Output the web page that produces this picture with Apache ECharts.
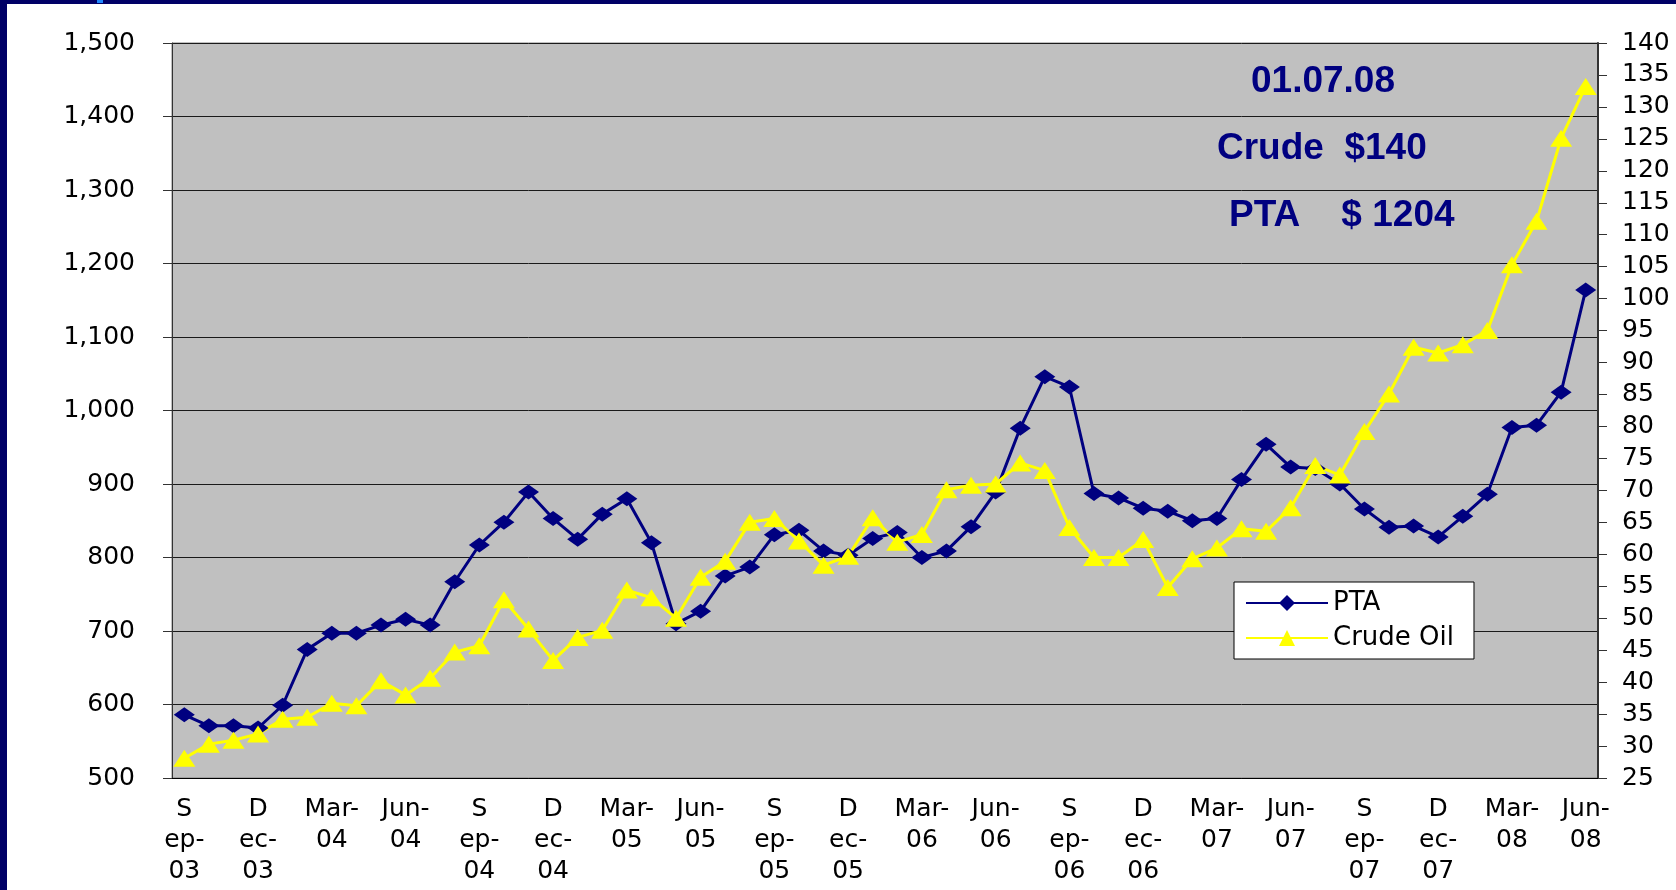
<!DOCTYPE html>
<html>
<head>
<meta charset="utf-8">
<title>PTA vs Crude Oil</title>
<script src="https://cdn.jsdelivr.net/npm/echarts@6/dist/echarts.min.js"></script>
<style>
    html, body { margin: 0; padding: 0; background: #ffffff; }
    #chart { width: 1676px; height: 890px; }
</style>
</head>
<body>
<div id="chart"></div>
<script>
    // monthly, Sep-03 .. Jun-08
    const months = [
        'Sep-03', 'Oct-03', 'Nov-03', 'Dec-03',
        'Jan-04', 'Feb-04', 'Mar-04', 'Apr-04', 'May-04', 'Jun-04', 'Jul-04', 'Aug-04', 'Sep-04', 'Oct-04', 'Nov-04', 'Dec-04',
        'Jan-05', 'Feb-05', 'Mar-05', 'Apr-05', 'May-05', 'Jun-05', 'Jul-05', 'Aug-05', 'Sep-05', 'Oct-05', 'Nov-05', 'Dec-05',
        'Jan-06', 'Feb-06', 'Mar-06', 'Apr-06', 'May-06', 'Jun-06', 'Jul-06', 'Aug-06', 'Sep-06', 'Oct-06', 'Nov-06', 'Dec-06',
        'Jan-07', 'Feb-07', 'Mar-07', 'Apr-07', 'May-07', 'Jun-07', 'Jul-07', 'Aug-07', 'Sep-07', 'Oct-07', 'Nov-07', 'Dec-07',
        'Jan-08', 'Feb-08', 'Mar-08', 'Apr-08', 'May-08', 'Jun-08'
    ];

    // PTA, $/t (left axis)
    const pta = [
        586, 571, 571, 568,
        599, 675, 697, 697, 708, 716, 708, 767, 817, 848, 889, 853,
        825, 859, 880, 820, 710, 727, 775, 787, 831, 837, 809, 803,
        826, 834, 800, 809, 842, 889, 976, 1046, 1032, 887, 881, 867,
        863, 850, 853, 906, 954, 923, 921, 900, 866, 841, 843, 828,
        856, 886, 977, 980, 1025, 1164
    ];

    // Crude oil, $/bbl (right axis)
    const crude = [
        28.1, 30.3, 30.9, 31.9,
        34.2, 34.5, 36.7, 36.3, 40.2, 38.0, 40.6, 44.7, 45.7, 52.9, 48.3, 43.4,
        47.0, 48.1, 54.4, 53.2, 50.0, 56.4, 58.9, 65.0, 65.6, 62.1, 58.3, 59.7,
        65.7, 61.9, 63.1, 70.1, 70.8, 71.0, 74.3, 73.1, 64.2, 59.5, 59.5, 62.3,
        54.8, 59.3, 61.0, 64.0, 63.6, 67.3, 73.9, 72.4, 79.2, 85.1, 92.4, 91.5,
        92.8, 95.0, 105.3, 112.1, 125.1, 133.2
    ];

    // the month labels wrap oddly in the original
    const monthWrap = { Sep: 'S\nep-', Dec: 'D\nec-', Mar: 'Mar-', Jun: 'Jun-' };

    const notes = ['01.07.08', 'Crude  $140', 'PTA    $ 1204'];

    const chart = echarts.init(document.getElementById('chart'), null, { renderer: 'canvas' });

    const labelFont = 'DejaVu Sans';
    const axisText = { color: '#000', fontFamily: labelFont, fontSize: 25 };
    const noteFont = 'bold 37px "Liberation Sans", Arial';

    const option = {
        animation: false,
        backgroundColor: '#ffffff',
        grid: {
            left: 172, top: 43, width: 1426, height: 735,
            show: true,
            backgroundColor: '#c0c0c0',
            borderColor: '#808080',
            borderWidth: 1
        },
        legend: {
            orient: 'vertical',
            left: 1234, top: 582,
            data: ['PTA', 'Crude Oil'],
            itemWidth: 82, itemHeight: 20, itemGap: 9,
            padding: [8, 20, 8, 11],
            backgroundColor: '#ffffff',
            borderColor: '#000000', borderWidth: 1,
            textStyle: { color: '#000', fontFamily: labelFont, fontSize: 26 }
        },
        xAxis: {
            type: 'category',
            data: months,
            boundaryGap: true,
            axisLine: { lineStyle: { color: '#000', width: 1 } },
            axisTick: { interval: 0, length: 7, lineStyle: { color: '#000' } },
            axisLabel: Object.assign({
                interval: 2,
                margin: 16,
                lineHeight: 31,
                formatter: function (v) {
                    const p = v.split('-');
                    return monthWrap[p[0]] + '\n' + p[1];
                }
            }, axisText),
            splitLine: { show: false }
        },
        yAxis: [
            {
                type: 'value',
                min: 500, max: 1500, interval: 100,
                position: 'left',
                axisLine: { show: true, lineStyle: { color: '#333', width: 1 } },
                axisTick: { show: true, length: 9, lineStyle: { color: '#333' } },
                axisLabel: Object.assign({
                    margin: 37,
                    formatter: function (v) { return v.toLocaleString('en-US'); }
                }, axisText),
                splitLine: { show: true, lineStyle: { color: '#1a1a1a', width: 1 } }
            },
            {
                type: 'value',
                min: 25, max: 140, interval: 5,
                position: 'right',
                axisLine: { show: true, lineStyle: { color: '#333', width: 2 } },
                axisTick: { show: true, length: 9, lineStyle: { color: '#333' } },
                axisLabel: Object.assign({ margin: 24 }, axisText),
                splitLine: { show: false }
            }
        ],
        series: [
            {
                name: 'PTA',
                type: 'line',
                data: pta,
                symbol: 'diamond',
                symbolSize: [21, 15],
                showAllSymbol: true,
                lineStyle: { color: '#000080', width: 3 },
                itemStyle: { color: '#000080' }
            },
            {
                name: 'Crude Oil',
                type: 'line',
                yAxisIndex: 1,
                data: crude,
                symbol: 'triangle',
                symbolSize: [22, 17],
                showAllSymbol: true,
                lineStyle: { color: '#ffff00', width: 3 },
                itemStyle: { color: '#ffff00' }
            }
        ],
        graphic: [
            // navy slide frame bits
            { type: 'rect', left: 0, top: 0, shape: { width: 1676, height: 4 }, style: { fill: '#000066' }, z: 100 },
            { type: 'rect', left: 0, top: 0, shape: { width: 7, height: 890 }, style: { fill: '#000066' }, z: 100 },
            { type: 'rect', left: 97, top: 0, shape: { width: 6, height: 3 }, style: { fill: '#1e88ff' }, z: 101 },
            { type: 'text', left: 1251, top: 63, z: 50, style: { text: notes[0], fill: '#000080', font: noteFont } },
            { type: 'text', left: 1217, top: 130, z: 50, style: { text: notes[1], fill: '#000080', font: noteFont } },
            { type: 'text', left: 1229, top: 197, z: 50, style: { text: notes[2], fill: '#000080', font: noteFont } }
        ]
    };

    chart.setOption(option);
</script>
</body>
</html>
